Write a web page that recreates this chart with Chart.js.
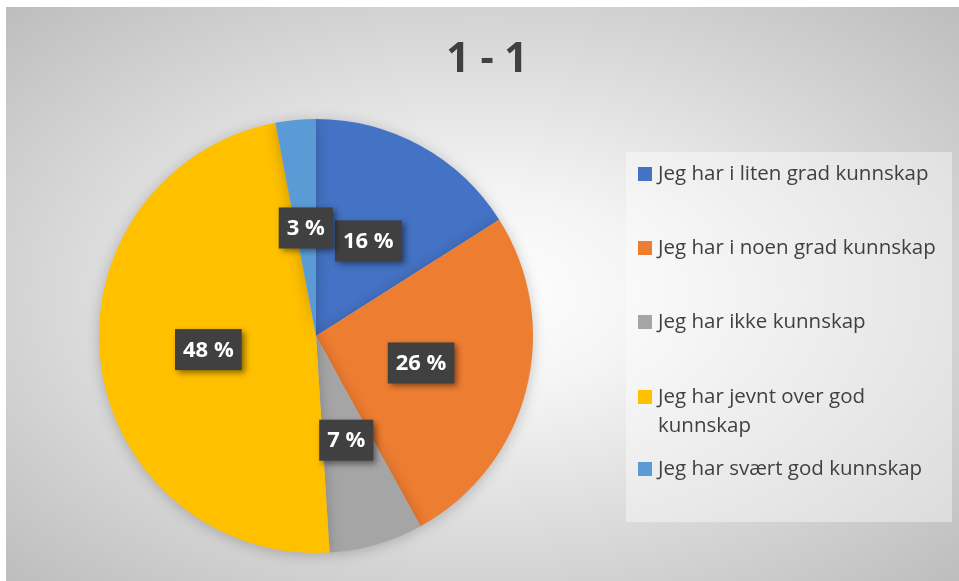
<!DOCTYPE html>
<html>
<head>
<meta charset="utf-8">
<script src="https://cdn.jsdelivr.net/npm/chart.js@4.4.1/dist/chart.umd.min.js"></script>
<style>
  html, body { margin: 0; padding: 0; background: #fff; overflow: hidden; }
  #wrap { position: relative; width: 959px; height: 581px; }
  #bg {
    position: absolute; left: 6px; top: 7px; width: 953px; height: 574px;
    background: radial-gradient(ellipse farthest-corner at 50% 50%, #ffffff 0%, #f4f4f4 25%, #bdbdbd 100%);
  }
  #chart { position: absolute; left: 0; top: 0; }
</style>
</head>
<body>
<div id="wrap">
  <div id="bg"></div>
  <canvas id="chart" width="959" height="581"></canvas>
</div>
<script>
const title = '1 - 1';
const labels = [
  'Jeg har i liten grad kunnskap',
  'Jeg har i noen grad kunnskap',
  'Jeg har ikke kunnskap',
  'Jeg har jevnt over god kunnskap',
  'Jeg har svært god kunnskap'
];
// wrapped text for the legend
const legendLines = [
  ['Jeg har i liten grad kunnskap'],
  ['Jeg har i noen grad kunnskap'],
  ['Jeg har ikke kunnskap'],
  ['Jeg har jevnt over god', 'kunnskap'],
  ['Jeg har svært god kunnskap']
];
const values = [16, 26, 7, 48, 3];
const colors = ['#4472C4', '#ED7D31', '#A5A5A5', '#FFC000', '#5B9BD5'];

const FONT = "'Open Sans', 'Noto Sans', sans-serif";

// soft shadow under the pie
const pieShadow = {
  id: 'pieShadow',
  beforeDatasetsDraw(chart) {
    const ctx = chart.ctx;
    ctx.save();
    ctx.shadowColor = 'rgba(0,0,0,0.22)';
    ctx.shadowBlur = 14;
    ctx.shadowOffsetX = 0;
    ctx.shadowOffsetY = 2;
  },
  afterDatasetsDraw(chart) {
    chart.ctx.restore();
  }
};

// dark boxed percentage labels
const boxLabels = {
  id: 'boxLabels',
  afterDatasetsDraw(chart) {
    const ctx = chart.ctx;
    const meta = chart.getDatasetMeta(0);
    ctx.save();
    ctx.font = 'bold 22px ' + FONT;
    ctx.textAlign = 'center';
    ctx.textBaseline = 'middle';
    meta.data.forEach((arc, i) => {
      const p = arc.tooltipPosition();
      const txt = values[i] + ' %';
      const w = ctx.measureText(txt).width + 16;
      const h = 41;
      ctx.save();
      ctx.shadowColor = 'rgba(0,0,0,0.45)';
      ctx.shadowBlur = 6;
      ctx.shadowOffsetX = 3;
      ctx.shadowOffsetY = 3;
      ctx.fillStyle = '#404040';
      ctx.fillRect(p.x - w / 2, p.y - h / 2, w, h);
      ctx.restore();
      ctx.fillStyle = '#ffffff';
      ctx.fillText(txt, p.x, p.y + 1);
    });
    ctx.restore();
  }
};

// title and legend panel on the right
const decor = {
  id: 'decor',
  afterDraw(chart) {
    const ctx = chart.ctx;
    ctx.save();
    ctx.fillStyle = '#404040';
    ctx.font = 'bold 41px ' + FONT;
    ctx.textAlign = 'center';
    ctx.textBaseline = 'middle';
    ctx.fillText(title, 487, 60);

    ctx.fillStyle = 'rgba(255,255,255,0.4)';
    ctx.fillRect(626, 152, 326, 370);

    const rows = [174, 248, 322, 397, 469];
    ctx.font = '20.5px ' + FONT;
    ctx.textAlign = 'left';
    legendLines.forEach((lines, i) => {
      ctx.fillStyle = colors[i];
      ctx.fillRect(638, rows[i] - 7, 14, 14);
      ctx.fillStyle = '#404040';
      lines.forEach((ln, j) => ctx.fillText(ln, 658, rows[i] + j * 29));
    });
    ctx.restore();
  }
};

new Chart(document.getElementById('chart'), {
  type: 'pie',
  data: {
    labels: labels,
    datasets: [{
      data: values,
      backgroundColor: colors,
      borderWidth: 0
    }]
  },
  options: {
    responsive: false,
    animation: false,
    layout: { padding: { left: 99, top: 119, right: 426, bottom: 28 } },
    plugins: {
      legend: { display: false },
      title: { display: false },
      tooltip: { enabled: false }
    }
  },
  plugins: [pieShadow, boxLabels, decor]
});
</script>
</body>
</html>
